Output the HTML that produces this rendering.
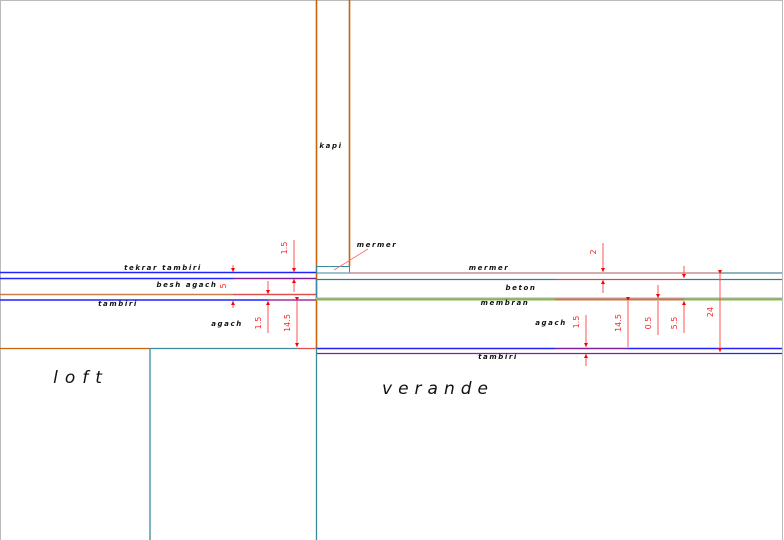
<!DOCTYPE html>
<html><head><meta charset="utf-8"><style>
html,body{margin:0;padding:0;background:#fff;}
svg{display:block;}
text{font-family:"DejaVu Sans","Liberation Sans",sans-serif;font-style:italic;fill:#111;}
.s text{font-size:7px;letter-spacing:1.6px;font-weight:bold;}
.d text{font-size:8px;fill:#f22;font-style:normal;}
</style></head><body>
<svg width="784" height="540" viewBox="0 0 784 540" xmlns="http://www.w3.org/2000/svg">
<defs>
<marker id="a" viewBox="0 0 6 6" refX="6" refY="3" markerWidth="4" markerHeight="5" orient="auto"><path d="M0,0L6,3L0,6z" fill="#f00"/></marker>
</defs>
<rect x="0.5" y="0.5" width="782" height="540" fill="none" stroke="#bbb" stroke-width="1"/>
<line x1="316.5" y1="0" x2="316.5" y2="348" stroke="#c8640a" stroke-width="1.6"/>
<line x1="349.5" y1="0" x2="349.5" y2="266" stroke="#c8640a" stroke-width="1.6"/>
<line x1="0" y1="272.5" x2="316" y2="272.5" stroke="#22f" stroke-width="1.5"/>
<line x1="0" y1="278.5" x2="233" y2="278.5" stroke="#22f" stroke-width="1.5"/>
<line x1="233" y1="278.5" x2="316" y2="278.5" stroke="#8020a0" stroke-width="1.5"/>
<line x1="0" y1="294.5" x2="233" y2="294.5" stroke="#c8804a" stroke-width="1.5"/>
<line x1="233" y1="294.5" x2="316" y2="294.5" stroke="#e05050" stroke-width="1.5"/>
<line x1="0" y1="300" x2="268" y2="300" stroke="#22f" stroke-width="1.5"/>
<line x1="268" y1="300" x2="316" y2="300" stroke="#a030a0" stroke-width="1.5"/>
<line x1="0" y1="348.5" x2="150" y2="348.5" stroke="#c8640a" stroke-width="1.3"/>
<line x1="150" y1="348.5" x2="297" y2="348.5" stroke="#3a8aa0" stroke-width="1.3"/>
<line x1="297" y1="348.5" x2="316" y2="348.5" stroke="#e05050" stroke-width="1.3"/>
<line x1="150" y1="348" x2="150" y2="540" stroke="#3a8aa0" stroke-width="1.3"/>
<rect x="316.5" y="266.5" width="33" height="6.5" fill="none" stroke="#3a8aa0" stroke-width="1"/>
<line x1="349" y1="273" x2="720" y2="273" stroke="#c89090" stroke-width="1.5"/>
<line x1="720" y1="273" x2="782" y2="273" stroke="#6a9aaa" stroke-width="1.5"/>
<line x1="316" y1="279.5" x2="555" y2="279.5" stroke="#3a7a90" stroke-width="1.3"/>
<line x1="555" y1="279.5" x2="684" y2="279.5" stroke="#c05050" stroke-width="1.3"/>
<line x1="684" y1="279.5" x2="782" y2="279.5" stroke="#3a7a90" stroke-width="1.3"/>
<line x1="316.5" y1="279" x2="316.5" y2="299" stroke="#3a8aa0" stroke-width="1.3"/>
<line x1="316" y1="298" x2="782" y2="298" stroke="#c0a0c0" stroke-width="1"/>
<line x1="316" y1="299.5" x2="555" y2="299.5" stroke="#80c040" stroke-width="2"/>
<line x1="555" y1="299.5" x2="684" y2="299.5" stroke="#c87a3a" stroke-width="2"/>
<line x1="684" y1="299.5" x2="782" y2="299.5" stroke="#80c040" stroke-width="2"/>
<line x1="316" y1="348.5" x2="555" y2="348.5" stroke="#22f" stroke-width="1.5"/>
<line x1="555" y1="348.5" x2="628" y2="348.5" stroke="#8020a0" stroke-width="1.5"/>
<line x1="628" y1="348.5" x2="782" y2="348.5" stroke="#22f" stroke-width="1.5"/>
<line x1="316" y1="353.5" x2="720" y2="353.5" stroke="#8020a0" stroke-width="1.3"/>
<line x1="720" y1="353.5" x2="782" y2="353.5" stroke="#22f" stroke-width="1.3"/>
<line x1="316.5" y1="348" x2="316.5" y2="540" stroke="#3a8aa0" stroke-width="1.3"/>
<line x1="334" y1="270" x2="368" y2="249" stroke="#f66" stroke-width="0.8"/>
<g stroke="#f55" stroke-width="1" fill="none">
<line x1="233" y1="265" x2="233" y2="272" marker-end="url(#a)"/>
<line x1="233" y1="308" x2="233" y2="301" marker-end="url(#a)"/>
<line x1="294" y1="240" x2="294" y2="272" marker-end="url(#a)"/>
<line x1="294" y1="292" x2="294" y2="279" marker-end="url(#a)"/>
<line x1="268" y1="281" x2="268" y2="294" marker-end="url(#a)"/>
<line x1="268" y1="333" x2="268" y2="301" marker-end="url(#a)"/>
<line x1="297" y1="301" x2="297" y2="347" marker-start="url(#a)" marker-end="url(#a)"/>
<line x1="603" y1="243" x2="603" y2="272" marker-end="url(#a)"/>
<line x1="603" y1="293" x2="603" y2="280" marker-end="url(#a)"/>
<line x1="684" y1="266" x2="684" y2="278" marker-end="url(#a)"/>
<line x1="720" y1="274" x2="720" y2="352" marker-start="url(#a)" marker-end="url(#a)"/>
<line x1="586" y1="315" x2="586" y2="347" marker-end="url(#a)"/>
<line x1="586" y1="366" x2="586" y2="354" marker-end="url(#a)"/>
<line x1="628" y1="301" x2="628" y2="347" marker-start="url(#a)"/>
<line x1="658" y1="285" x2="658" y2="298" marker-end="url(#a)"/>
<line x1="658" y1="335" x2="658" y2="301"/>
<line x1="684" y1="333" x2="684" y2="301" marker-end="url(#a)"/>
</g>
<g class="d">
<text transform="translate(226,286) rotate(-90)" text-anchor="middle">5</text>
<text transform="translate(287,248) rotate(-90)" text-anchor="middle">1.5</text>
<text transform="translate(261,323) rotate(-90)" text-anchor="middle">1.5</text>
<text transform="translate(290,323) rotate(-90)" text-anchor="middle">14.5</text>
<text transform="translate(596,252) rotate(-90)" text-anchor="middle">2</text>
<text transform="translate(713,312) rotate(-90)" text-anchor="middle">24</text>
<text transform="translate(579,322) rotate(-90)" text-anchor="middle">1.5</text>
<text transform="translate(621,323) rotate(-90)" text-anchor="middle">14.5</text>
<text transform="translate(651,323) rotate(-90)" text-anchor="middle">0.5</text>
<text transform="translate(677,323) rotate(-90)" text-anchor="middle">5.5</text>
</g>
<g class="s">
<text x="331" y="148" text-anchor="middle">kapi</text>
<text x="377" y="247" text-anchor="middle">mermer</text>
<text x="489" y="270" text-anchor="middle">mermer</text>
<text x="521" y="290" text-anchor="middle">beton</text>
<text x="505" y="305" text-anchor="middle">membran</text>
<text x="551" y="325" text-anchor="middle">agach</text>
<text x="498" y="359" text-anchor="middle">tambiri</text>
<text x="163" y="270" text-anchor="middle">tekrar tambiri</text>
<text x="187" y="287" text-anchor="middle">besh agach</text>
<text x="118" y="306" text-anchor="middle">tambiri</text>
<text x="227" y="326" text-anchor="middle">agach</text>
</g>
<text x="81" y="383" text-anchor="middle" style="font-size:17px;letter-spacing:7px;">loft</text>
<text x="438" y="394" text-anchor="middle" style="font-size:17px;letter-spacing:6px;">verande</text>
</svg>
</body></html>
